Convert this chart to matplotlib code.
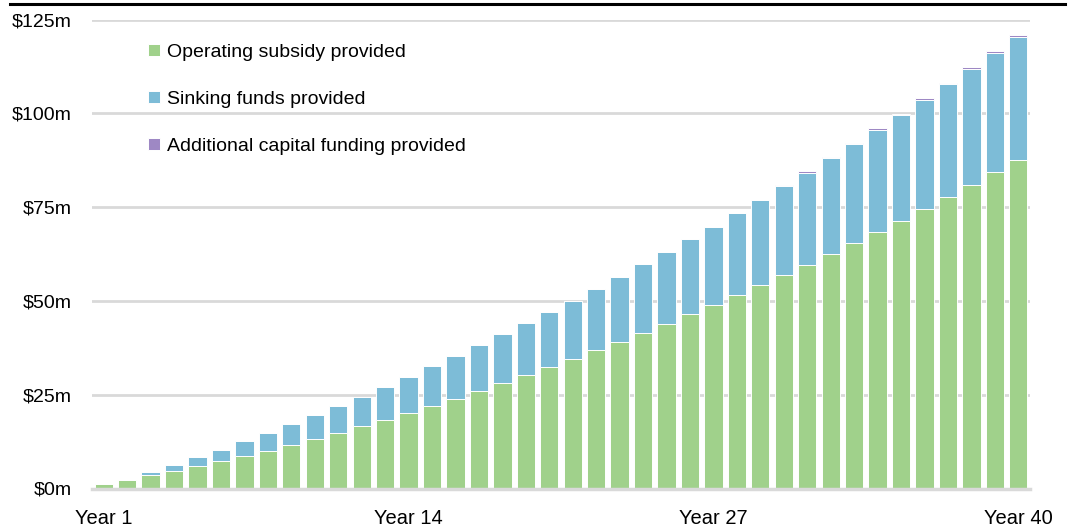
import matplotlib
matplotlib.use("Agg")
import matplotlib.pyplot as plt
from matplotlib.lines import Line2D
import numpy as np

plt.rcParams["font.family"] = ["Liberation Sans", "DejaVu Sans"]

years = [f"Year {i}" for i in range(1, 41)]
tick_years = ["Year 1", "Year 14", "Year 27", "Year 40"]

# $m per year
operating_subsidy = [
    1.2, 2.3, 3.5, 4.7, 5.9, 7.2, 8.6, 10.0, 11.6, 13.1,
    14.8, 16.6, 18.3, 20.0, 22.0, 23.9, 26.0, 28.0, 30.2, 32.3,
    34.4, 36.8, 39.1, 41.5, 43.9, 46.4, 48.9, 51.5, 54.2, 56.8,
    59.7, 62.5, 65.3, 68.4, 71.4, 74.4, 77.7, 80.9, 84.3, 87.6,
]
sinking_funds = [
    0.0, 0.0, 0.8, 1.6, 2.4, 3.1, 4.0, 4.8, 5.5, 6.4,
    7.2, 7.9, 8.8, 9.8, 10.6, 11.4, 12.2, 13.1, 13.8, 14.7,
    15.7, 16.5, 17.4, 18.3, 19.0, 20.0, 20.9, 21.8, 22.6, 23.8,
    24.5, 25.5, 26.5, 27.2, 28.1, 29.1, 30.0, 30.9, 31.7, 32.8,
]
additional_capital = [
    0.0, 0.0, 0.0, 0.0, 0.0, 0.0, 0.0, 0.0, 0.0, 0.0,
    0.0, 0.0, 0.0, 0.0, 0.0, 0.0, 0.0, 0.0, 0.0, 0.0,
    0.0, 0.0, 0.0, 0.0, 0.0, 0.0, 0.0, 0.0, 0.0, 0.3,
    0.4, 0.4, 0.4, 0.4, 0.4, 0.5, 0.5, 0.5, 0.5, 0.5,
]

GREEN = "#a0d18b"
BLUE = "#7dbcd7"
PURPLE = "#9e88c4"
GRID = "#d9d9d9"

fig = plt.figure(figsize=(10.75, 5.31), dpi=100)
ax = fig.add_axes([92 / 1075, 1 - 488.5 / 531, 938 / 1075, 469 / 531])

x = np.arange(len(years))
op = np.array(operating_subsidy)
sf = np.array(sinking_funds)
ac = np.array(additional_capital)

bar_kw = dict(width=0.78, edgecolor="white", linewidth=0.7, zorder=3)
ax.bar(x, op, color=GREEN, label="Operating subsidy provided", **bar_kw)
ax.bar(x, sf, bottom=op, color=BLUE, label="Sinking funds provided", **bar_kw)
ax.bar(x, ac, bottom=op + sf, color=PURPLE, label="Additional capital funding provided", **bar_kw)

ax.set_xlim(-0.5, 39.5)
ax.set_ylim(0, 125)
ax.set_yticks([0, 25, 50, 75, 100, 125])
ax.set_yticklabels(["$0m", "$25m", "$50m", "$75m", "$100m", "$125m"])
ax.set_xticks([years.index(t) for t in tick_years])
ax.set_xticklabels(tick_years)

ax.yaxis.grid(True, color=GRID, linewidth=2, zorder=0)
ax.set_axisbelow(True)
for s in ax.spines.values():
    s.set_visible(False)
ax.axhline(0, color=GRID, linewidth=2.5, zorder=4, clip_on=False)
ax.tick_params(axis="both", length=0, colors="black")
ax.tick_params(axis="y", pad=14.4, labelsize=14)
ax.tick_params(axis="x", pad=15, labelsize=14.5)

leg = ax.legend(
    loc="upper left", bbox_to_anchor=(148 / 1075, 1 - 44 / 531),
    bbox_transform=fig.transFigure, frameon=False, fontsize=14,
    handlelength=0.6, handleheight=0.6, handletextpad=0.4,
    labelspacing=1.53, borderpad=0, borderaxespad=0,
)

fig.add_artist(Line2D([10 / 1075, 1065 / 1075], [1 - 4 / 531, 1 - 4 / 531],
                      transform=fig.transFigure, color="black", linewidth=2.2))

fig.savefig("out.png", dpi=100)
